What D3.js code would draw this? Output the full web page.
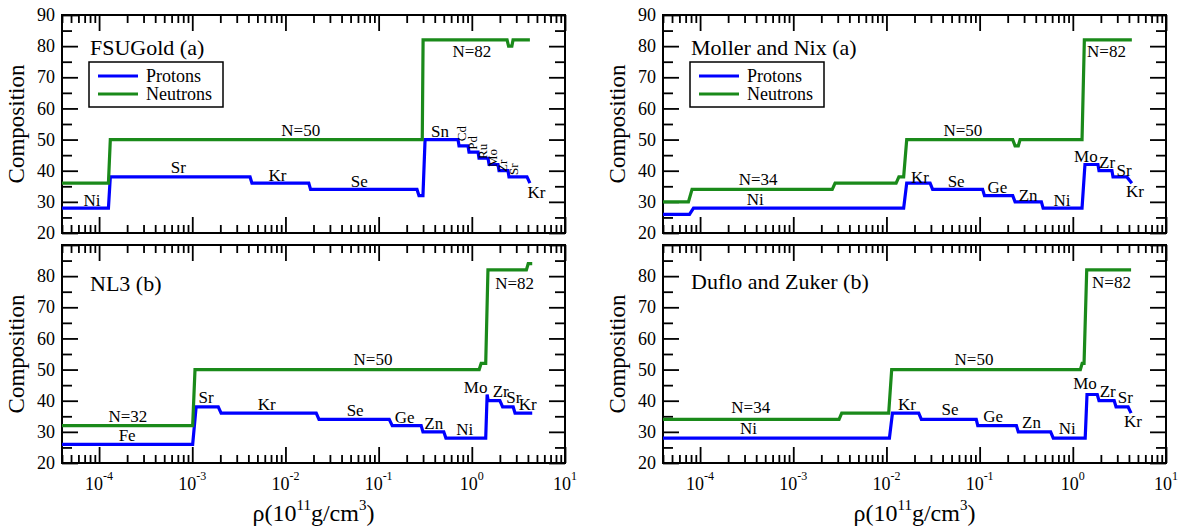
<!DOCTYPE html>
<html>
<head>
<meta charset="utf-8">
<script src="https://cdn.jsdelivr.net/npm/d3@7"></script>
</head>
<body style="margin:0">
<svg id="chart" width="1180" height="527" font-family="Liberation Serif"></svg>
<script>
// density range (10^11 g/cm^3) and composition range
const xDomain = [4e-5, 10];
const yDomain = [20, 90];

// [rho, Z or N] points of each step curve
const fsuProtons = [[4e-5,28],[1.26e-4,28],[1.32e-4,38],[4.17e-3,38],[4.37e-3,36],[1.78e-2,36],[1.86e-2,34],
  [0.258,34],[0.271,32],[0.299,32],[0.315,50],[0.711,50],[0.729,48],[0.910,48],[0.933,46],[1.167,46],
  [1.194,44],[1.493,44],[1.531,42],[1.910,42],[1.959,40],[2.443,40],[2.506,38],[3.908,38],[4.2,36]];
const fsuNeutrons = [[4e-5,36],[1.26e-4,36],[1.32e-4,50],[0.294,50],[0.300,82],[2.39,82],[2.48,80],
  [2.69,80],[2.77,82],[4.2,82]];

const nl3Protons = [[4e-5,26],[1.01e-3,26],[1.10e-3,38],[1.90e-3,38],[2.04e-3,36],[2.14e-2,36],[2.29e-2,34],
  [0.130,34],[0.140,32],[0.286,32],[0.299,30],[0.50,30],[0.527,28],[1.41,28],[1.46,42],[1.50,40],
  [2.0,40],[2.14,38],[2.78,38],[2.91,36],[4.45,36]];
const nl3Neutrons = [[4e-5,32],[1.01e-3,32],[1.07e-3,50],[1.20,50],[1.26,52],[1.41,52],[1.49,82],
  [3.85,82],[4.03,84],[4.45,84]];

const mnProtons = [[4e-5,26],[7.7e-5,26],[8.5e-5,28],[1.53e-2,28],[1.65e-2,36],[2.94e-2,36],[3.13e-2,34],
  [0.1076,34],[0.1127,32],[0.2265,32],[0.24,30],[0.46,30],[0.48,28],[1.256,28],[1.35,42],[1.86,42],
  [1.91,40],[2.63,40],[2.70,38],[3.80,38],[4.3,36]];
const mnNeutrons = [[4e-5,30],[7.5e-5,30],[8.2e-5,34],[2.62e-3,34],[2.81e-3,36],[1.27e-2,36],[1.36e-2,38],
  [1.53e-2,38],[1.65e-2,50],[0.2265,50],[0.24,48],[0.26,48],[0.272,50],[1.256,50],[1.33,82],[4.3,82]];

const dzProtons = [[4e-5,28],[1.076e-2,28],[1.16e-2,36],[2.22e-2,36],[2.37e-2,34],[9.2e-2,34],[9.55e-2,32],
  [0.248,32],[0.26,30],[0.578,30],[0.617,28],[1.358,28],[1.42,42],[1.83,42],[1.91,40],[2.78,40],
  [2.91,38],[3.92,38],[4.22,36]];
const dzNeutrons = [[4e-5,34],[3.1e-3,34],[3.31e-3,36],[1.057e-2,36],[1.138e-2,50],[1.205,50],[1.26,52],
  [1.32,52],[1.41,82],[4.22,82]];

// annotations: [text, rho, value at baseline]
const fsuLabels = [["Ni",8.4e-5,28.7],["Sr",7.1e-4,39.2],["Kr",8.2e-3,36.8],["Se",6.2e-2,34.7],
  ["N=50",1.46e-2,51.1],["Sn",0.456,50.8],["N=82",1.0,76.5],["Kr",4.94,31.2]];
const fsuTilted = [["Cd",0.867,49.5],["Pd",1.14,46.7],["Ru",1.46,43.8],["Mo",1.86,41.2],["Zr",2.39,39.6],["Sr",3.13,38.6]];
const nl3Labels = [["N=32",2.04e-4,33.3],["Fe",2.0e-4,27.2],["Sr",1.41e-3,39.2],["Kr",6.3e-3,36.9],
  ["Se",5.6e-2,35.2],["Ge",0.19,32.7],["Zn",0.39,31],["Ni",0.84,29.1],["Mo",1.10,42.4],["Zr",2.04,41.1],
  ["Sr",2.82,39.2],["Kr",3.98,37.1],["N=50",8.7e-2,51.5],["N=82",2.88,76]];
const mnLabels = [["N=34",4.2e-4,35.5],["Ni",3.9e-4,29.1],["N=50",6.6e-2,51],["Kr",2.29e-2,36.2],
  ["Se",5.6e-2,34.7],["Ge",0.155,32.8],["Zn",0.331,30.3],["Ni",0.766,28.7],["Mo",1.38,42.8],
  ["Zr",2.33,40.9],["Sr",3.55,38.3],["Kr",4.64,31.6],["N=82",2.3,76.5]];
const dzLabels = [["N=34",3.5e-4,36],["Ni",3.3e-4,29.4],["Kr",1.66e-2,37.1],["Se",4.8e-2,35.5],
  ["Ge",0.14,33.1],["Zn",0.36,31.2],["Ni",0.87,29.4],["Mo",1.35,43.7],["Zr",2.37,41.3],
  ["Sr",3.67,39.2],["Kr",4.42,31.7],["N=50",8.7e-2,51.5],["N=82",2.6,76.2]];

const seriesNames = ["Protons", "Neutrons"];
const seriesColors = ["#0000ff", "#1a8a1a"];
const xTickExponents = ["-4", "-3", "-2", "-1", "0", "1"];

const FONT = "Liberation Serif";
const svg = d3.select("#chart");
const W = 503, H = 218;

const x = d3.scaleLog().domain(xDomain).range([0, W]);
const y = d3.scaleLinear().domain(yDomain).range([H, 0]);

const panels = [
  { title: "FSUGold (a)", left: 62, top: 15, titleY: 40, data: [fsuProtons, fsuNeutrons], labels: fsuLabels, tilted: fsuTilted, legend: true, bottom: false },
  { title: "Moller and Nix (a)", left: 663, top: 15, titleY: 40, data: [mnProtons, mnNeutrons], labels: mnLabels, tilted: [], legend: true, bottom: false },
  { title: "NL3 (b)", left: 62, top: 245, titleY: 45.5, data: [nl3Protons, nl3Neutrons], labels: nl3Labels, tilted: [], legend: false, bottom: true },
  { title: "Duflo and Zuker (b)", left: 663, top: 245, titleY: 44, data: [dzProtons, dzNeutrons], labels: dzLabels, tilted: [], legend: false, bottom: true }
];

const allX = x.ticks();
const majorX = allX.filter(v => Math.abs(Math.log10(v) - Math.round(Math.log10(v))) < 1e-9);
const minorX = allX.filter(v => !majorX.includes(v));
const majorY = d3.range(20, 91, 10);
const minorY = d3.range(25, 90, 10);

const line = d3.line().x(d => x(d[0])).y(d => y(d[1]));

// tick marks only; the axis texts are dropped
function tickAxis(g, axis, tr) {
  const a = g.append("g").attr("transform", tr).call(axis);
  a.attr("font-family", null).attr("font-size", null);
  a.select(".domain").remove();
  a.selectAll("text").remove();
  a.selectAll(".tick line").attr("stroke", "#000").attr("stroke-width", 1.8);
  return a;
}

function label(sel, size) {
  return sel.attr("font-family", FONT).attr("font-size", size).attr("fill", "#000");
}

panels.forEach(p => {
  const g = svg.append("g").attr("transform", `translate(${p.left},${p.top})`);

  // ticks on all four sides, pointing inward
  [[d3.axisBottom, `translate(0,${H})`], [d3.axisTop, "translate(0,0)"]].forEach(([fn, tr]) => {
    tickAxis(g, fn(x).tickValues(majorX).tickSize(-16), tr);
    tickAxis(g, fn(x).tickValues(minorX).tickSize(-8), tr);
  });
  [[d3.axisLeft, "translate(0,0)"], [d3.axisRight, `translate(${W},0)`]].forEach(([fn, tr]) => {
    tickAxis(g, fn(y).tickValues(majorY).tickSize(-16), tr);
    tickAxis(g, fn(y).tickValues(minorY).tickSize(-10), tr);
  });

  // y tick labels
  label(g.selectAll(".ylab").data(p.bottom ? majorY.slice(0, -1) : majorY).enter().append("text"), 18)
    .attr("x", -7).attr("y", d => y(d)).attr("dy", "0.34em")
    .attr("text-anchor", "end")
    .text(d => d);

  g.append("rect").attr("width", W).attr("height", H)
    .attr("fill", "none").attr("stroke", "#000").attr("stroke-width", 2);

  // step curves
  p.data.forEach((d, i) => {
    g.append("path").datum(d)
      .attr("d", line)
      .attr("fill", "none")
      .attr("stroke", seriesColors[i])
      .attr("stroke-width", 3.2);
  });

  label(g.selectAll(".lab").data(p.labels).enter().append("text"), 17)
    .attr("x", d => x(d[1])).attr("y", d => y(d[2]))
    .attr("text-anchor", "middle")
    .text(d => d[0]);

  label(g.selectAll(".tilt").data(p.tilted).enter().append("text"), 13)
    .attr("transform", d => `translate(${x(d[1])},${y(d[2])}) rotate(-90)`)
    .text(d => d[0]);

  label(g.append("text"), 22).attr("x", 28).attr("y", p.titleY).text(p.title);

  if (p.legend) {
    const lg = g.append("g").attr("transform", "translate(27,47)");
    lg.append("rect").attr("width", 134).attr("height", 45)
      .attr("fill", "#fff").attr("stroke", "#000").attr("stroke-width", 1.5);
    seriesNames.forEach((name, i) => {
      lg.append("line").attr("x1", 9).attr("x2", 49).attr("y1", 14 + i * 18).attr("y2", 14 + i * 18)
        .attr("stroke", seriesColors[i]).attr("stroke-width", 3.2);
      label(lg.append("text"), 18).attr("x", 57).attr("y", 20 + i * 18).text(name);
    });
  }

  label(g.append("text"), 23)
    .attr("transform", `translate(-38,${H / 2}) rotate(-90)`)
    .attr("text-anchor", "middle")
    .text("Composition");

  if (p.bottom) {
    majorX.forEach((v, i) => {
      const t = label(g.append("text"), 18).attr("x", x(v)).attr("y", H + 27)
        .attr("text-anchor", "middle");
      t.append("tspan").text("10");
      t.append("tspan").attr("dy", -10).attr("font-size", 12).text(xTickExponents[i]);
    });
    const t = label(g.append("text"), 24).attr("x", W / 2).attr("y", H + 58)
      .attr("text-anchor", "middle");
    t.append("tspan").text("ρ(10");
    t.append("tspan").attr("dy", -11).attr("font-size", 15).text("11");
    t.append("tspan").attr("dy", 11).text("g/cm");
    t.append("tspan").attr("dy", -11).attr("font-size", 15).text("3");
    t.append("tspan").attr("dy", 11).text(")");
  }
});
</script>
</body>
</html>
